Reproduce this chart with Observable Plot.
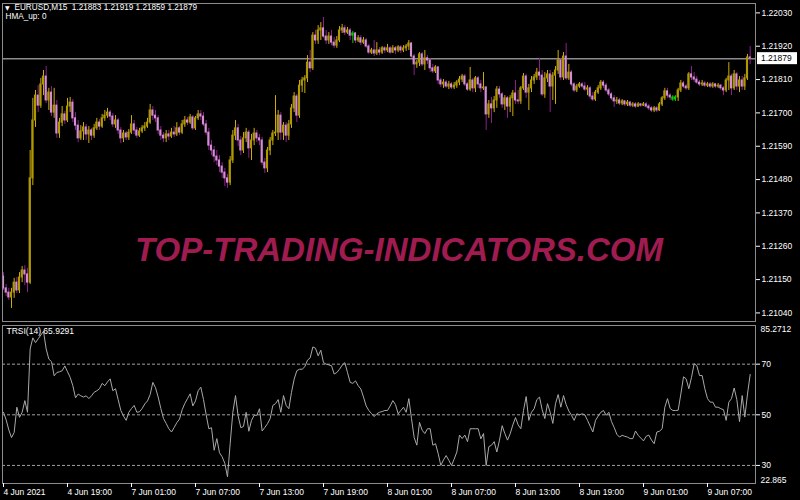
<!DOCTYPE html>
<html><head><meta charset="utf-8">
<script src="https://cdn.jsdelivr.net/npm/d3@7"></script>
<script src="https://cdn.jsdelivr.net/npm/@observablehq/plot@0.6"></script>
<style>
html,body{margin:0;padding:0;background:#000;}
#chart{position:relative;width:800px;height:500px;background:#000;overflow:hidden;}
#chart svg{position:absolute;left:0;display:block;}
#sep{position:absolute;left:0;top:321px;width:757px;height:4px;background:#9a9a9a;}
</style></head><body><div id="chart"><div id="sep"></div></div>
<script>
const symbol = "EURUSD", timeframe = "M15", indicatorName = "HMA_up", indicatorValue = 0, trsiName = "TRSI(14)";
const watermark = "TOP-TRADING-INDICATORS.COM";

const open = [
1.21160,1.21121,1.21107,1.21091,1.21107,1.21140,1.21114,1.21157,1.21180,1.21167,
1.21140,1.21484,1.21675,1.21757,1.21724,1.21794,1.21820,1.21741,1.21767,1.21701,
1.21724,1.21632,1.21668,1.21695,1.21675,1.21721,1.21734,1.21682,1.21658,1.21616,
1.21639,1.21652,1.21629,1.21642,1.21625,1.21649,1.21668,1.21655,1.21682,1.21691,
1.21701,1.21688,1.21662,1.21675,1.21642,1.21616,1.21632,1.21619,1.21635,1.21662,
1.21642,1.21625,1.21639,1.21649,1.21655,1.21668,1.21708,1.21691,1.21682,1.21642,
1.21625,1.21616,1.21629,1.21622,1.21635,1.21629,1.21649,1.21635,1.21662,1.21675,
1.21668,1.21685,1.21649,1.21682,1.21695,1.21688,1.21662,1.21635,1.21592,1.21576,
1.21556,1.21543,1.21523,1.21503,1.21484,1.21470,1.21543,1.21625,1.21649,1.21609,
1.21576,1.21616,1.21635,1.21583,1.21609,1.21632,1.21616,1.21609,1.21536,1.21517,
1.21576,1.21609,1.21632,1.21635,1.21691,1.21635,1.21658,1.21625,1.21662,1.21715,
1.21754,1.21691,1.21790,1.21807,1.21814,1.21866,1.21847,1.21955,1.21939,1.21972,
1.21979,1.21952,1.21939,1.21952,1.21932,1.21922,1.21939,1.21972,1.21979,1.21965,
1.21972,1.21955,1.21962,1.21939,1.21946,1.21932,1.21939,1.21919,1.21899,1.21906,
1.21896,1.21906,1.21899,1.21913,1.21906,1.21913,1.21899,1.21913,1.21906,1.21916,
1.21906,1.21913,1.21919,1.21929,1.21886,1.21860,1.21866,1.21893,1.21860,1.21880,
1.21873,1.21847,1.21837,1.21850,1.21807,1.21794,1.21800,1.21787,1.21794,1.21784,
1.21790,1.21800,1.21810,1.21820,1.21794,1.21777,1.21807,1.21781,1.21814,1.21794,
1.21781,1.21784,1.21695,1.21728,1.21715,1.21741,1.21777,1.21761,1.21728,1.21748,
1.21721,1.21748,1.21764,1.21741,1.21738,1.21781,1.21820,1.21767,1.21781,1.21807,
1.21817,1.21833,1.21823,1.21761,1.21814,1.21827,1.21787,1.21823,1.21840,1.21873,
1.21817,1.21886,1.21814,1.21833,1.21794,1.21774,1.21787,1.21794,1.21787,1.21777,
1.21781,1.21754,1.21744,1.21767,1.21781,1.21800,1.21790,1.21774,1.21761,1.21748,
1.21738,1.21741,1.21731,1.21738,1.21728,1.21734,1.21724,1.21728,1.21721,1.21728,
1.21724,1.21728,1.21721,1.21715,1.21708,1.21715,1.21708,1.21728,1.21748,1.21771,
1.21757,1.21751,1.21744,1.21751,1.21774,1.21797,1.21787,1.21781,1.21827,1.21817,
1.21810,1.21800,1.21794,1.21797,1.21790,1.21794,1.21787,1.21794,1.21787,1.21790,
1.21781,1.21774,1.21807,1.21820,1.21781,1.21827,1.21787,1.21807,1.21787,1.21814,1.21883];

const high = [
1.21173,1.21134,1.21121,1.21121,1.21154,1.21157,1.21173,1.21193,1.21196,1.21187,
1.21576,1.21748,1.21774,1.21790,1.21814,1.21840,1.21853,1.21781,1.21787,1.21781,
1.21741,1.21682,1.21721,1.21705,1.21748,1.21751,1.21744,1.21701,1.21675,1.21658,
1.21668,1.21662,1.21655,1.21649,1.21662,1.21682,1.21678,1.21695,1.21708,1.21715,
1.21708,1.21698,1.21691,1.21682,1.21652,1.21642,1.21639,1.21645,1.21691,1.21675,
1.21652,1.21649,1.21658,1.21668,1.21682,1.21728,1.21721,1.21708,1.21691,1.21655,
1.21635,1.21642,1.21642,1.21649,1.21655,1.21668,1.21655,1.21675,1.21688,1.21685,
1.21695,1.21691,1.21688,1.21708,1.21708,1.21701,1.21675,1.21649,1.21609,1.21589,
1.21576,1.21559,1.21536,1.21517,1.21497,1.21556,1.21642,1.21675,1.21662,1.21622,
1.21635,1.21649,1.21642,1.21629,1.21649,1.21642,1.21629,1.21619,1.21550,1.21586,
1.21619,1.21642,1.21757,1.21708,1.21701,1.21668,1.21668,1.21675,1.21728,1.21767,
1.21761,1.21807,1.21817,1.21823,1.21889,1.21906,1.21965,1.21972,1.21988,1.21998,
1.22015,1.21972,1.21965,1.21972,1.21949,1.21952,1.21985,1.21992,1.21988,1.21982,
1.21979,1.21969,1.21965,1.21955,1.21955,1.21949,1.21946,1.21926,1.21913,1.21939,
1.21932,1.21916,1.21919,1.21919,1.21926,1.21919,1.21922,1.21919,1.21922,1.21922,
1.21922,1.21926,1.21939,1.21932,1.21893,1.21873,1.21899,1.21899,1.21906,1.21889,
1.21880,1.21860,1.21856,1.21853,1.21814,1.21810,1.21807,1.21804,1.21800,1.21800,
1.21807,1.21820,1.21827,1.21827,1.21800,1.21850,1.21814,1.21820,1.21820,1.21807,
1.21833,1.21787,1.21741,1.21751,1.21754,1.21787,1.21787,1.21767,1.21757,1.21754,
1.21757,1.21774,1.21807,1.21774,1.21787,1.21830,1.21827,1.21794,1.21820,1.21827,
1.21847,1.21880,1.21840,1.21833,1.21840,1.21840,1.21833,1.21853,1.21906,1.21880,
1.21899,1.21929,1.21860,1.21840,1.21800,1.21794,1.21800,1.21800,1.21800,1.21790,
1.21787,1.21767,1.21774,1.21790,1.21807,1.21807,1.21797,1.21781,1.21767,1.21757,
1.21751,1.21748,1.21744,1.21741,1.21741,1.21738,1.21734,1.21734,1.21734,1.21731,
1.21734,1.21734,1.21728,1.21721,1.21721,1.21721,1.21734,1.21754,1.21781,1.21781,
1.21764,1.21757,1.21757,1.21781,1.21807,1.21804,1.21794,1.21833,1.21853,1.21833,
1.21820,1.21807,1.21807,1.21804,1.21800,1.21800,1.21800,1.21797,1.21797,1.21794,
1.21787,1.21814,1.21866,1.21827,1.21840,1.21833,1.21820,1.21820,1.21827,1.21893,1.21919];

const low = [
1.21114,1.21094,1.21081,1.21055,1.21088,1.21104,1.21104,1.21140,1.21130,1.21107,
1.21134,1.21460,1.21652,1.21701,1.21715,1.21757,1.21731,1.21708,1.21688,1.21682,
1.21616,1.21616,1.21655,1.21662,1.21668,1.21701,1.21668,1.21642,1.21602,1.21609,
1.21609,1.21609,1.21599,1.21609,1.21616,1.21642,1.21642,1.21649,1.21672,1.21682,
1.21675,1.21652,1.21649,1.21629,1.21599,1.21602,1.21609,1.21609,1.21629,1.21629,
1.21616,1.21619,1.21632,1.21639,1.21649,1.21662,1.21675,1.21668,1.21629,1.21609,
1.21602,1.21602,1.21609,1.21616,1.21619,1.21622,1.21625,1.21629,1.21652,1.21658,
1.21662,1.21642,1.21642,1.21675,1.21675,1.21655,1.21625,1.21576,1.21559,1.21536,
1.21526,1.21503,1.21484,1.21457,1.21451,1.21460,1.21533,1.21609,1.21589,1.21559,
1.21566,1.21602,1.21550,1.21543,1.21592,1.21602,1.21592,1.21526,1.21500,1.21503,
1.21559,1.21592,1.21622,1.21609,1.21609,1.21609,1.21602,1.21609,1.21649,1.21701,
1.21668,1.21682,1.21767,1.21764,1.21800,1.21833,1.21840,1.21926,1.21926,1.21939,
1.21946,1.21926,1.21926,1.21922,1.21913,1.21913,1.21932,1.21962,1.21955,1.21959,
1.21939,1.21929,1.21929,1.21932,1.21922,1.21926,1.21913,1.21893,1.21893,1.21886,
1.21889,1.21889,1.21893,1.21896,1.21899,1.21893,1.21896,1.21893,1.21899,1.21896,
1.21899,1.21903,1.21906,1.21880,1.21823,1.21847,1.21853,1.21853,1.21840,1.21860,
1.21833,1.21830,1.21830,1.21794,1.21784,1.21781,1.21781,1.21777,1.21777,1.21777,
1.21781,1.21790,1.21800,1.21787,1.21771,1.21771,1.21767,1.21767,1.21781,1.21767,
1.21774,1.21642,1.21682,1.21665,1.21701,1.21715,1.21748,1.21715,1.21708,1.21682,
1.21701,1.21688,1.21728,1.21728,1.21728,1.21774,1.21748,1.21708,1.21767,1.21794,
1.21807,1.21807,1.21754,1.21748,1.21800,1.21701,1.21741,1.21728,1.21827,1.21807,
1.21807,1.21807,1.21807,1.21787,1.21767,1.21767,1.21781,1.21781,1.21771,1.21757,
1.21744,1.21738,1.21738,1.21761,1.21774,1.21781,1.21767,1.21754,1.21741,1.21718,
1.21728,1.21724,1.21724,1.21721,1.21721,1.21718,1.21718,1.21715,1.21718,1.21718,
1.21721,1.21715,1.21708,1.21701,1.21701,1.21701,1.21705,1.21721,1.21741,1.21748,
1.21741,1.21738,1.21738,1.21738,1.21767,1.21781,1.21774,1.21774,1.21807,1.21800,
1.21794,1.21787,1.21787,1.21784,1.21784,1.21781,1.21781,1.21781,1.21781,1.21774,
1.21757,1.21767,1.21774,1.21757,1.21774,1.21774,1.21767,1.21774,1.21774,1.21807,1.21859];

const close = [
1.21121,1.21107,1.21091,1.21107,1.21140,1.21114,1.21157,1.21180,1.21167,1.21140,
1.21484,1.21675,1.21757,1.21724,1.21794,1.21820,1.21741,1.21767,1.21701,1.21724,
1.21632,1.21668,1.21695,1.21675,1.21721,1.21734,1.21682,1.21658,1.21616,1.21639,
1.21652,1.21629,1.21642,1.21625,1.21649,1.21668,1.21655,1.21682,1.21691,1.21701,
1.21688,1.21662,1.21675,1.21642,1.21616,1.21632,1.21619,1.21635,1.21662,1.21642,
1.21625,1.21639,1.21649,1.21655,1.21668,1.21708,1.21691,1.21682,1.21642,1.21625,
1.21616,1.21629,1.21622,1.21635,1.21629,1.21649,1.21635,1.21662,1.21675,1.21668,
1.21685,1.21649,1.21682,1.21695,1.21688,1.21662,1.21635,1.21592,1.21576,1.21556,
1.21543,1.21523,1.21503,1.21484,1.21470,1.21543,1.21625,1.21649,1.21609,1.21576,
1.21616,1.21635,1.21583,1.21609,1.21632,1.21616,1.21609,1.21536,1.21517,1.21576,
1.21609,1.21632,1.21635,1.21691,1.21635,1.21658,1.21625,1.21662,1.21715,1.21754,
1.21691,1.21790,1.21807,1.21814,1.21866,1.21847,1.21955,1.21939,1.21972,1.21979,
1.21952,1.21939,1.21952,1.21932,1.21922,1.21939,1.21972,1.21979,1.21965,1.21972,
1.21955,1.21962,1.21939,1.21946,1.21932,1.21939,1.21919,1.21899,1.21906,1.21896,
1.21906,1.21899,1.21913,1.21906,1.21913,1.21899,1.21913,1.21906,1.21916,1.21906,
1.21913,1.21919,1.21929,1.21886,1.21860,1.21866,1.21893,1.21860,1.21880,1.21873,
1.21847,1.21837,1.21850,1.21807,1.21794,1.21800,1.21787,1.21794,1.21784,1.21790,
1.21800,1.21810,1.21820,1.21794,1.21777,1.21807,1.21781,1.21814,1.21794,1.21781,
1.21784,1.21695,1.21728,1.21715,1.21741,1.21777,1.21761,1.21728,1.21748,1.21721,
1.21748,1.21764,1.21741,1.21738,1.21781,1.21820,1.21767,1.21781,1.21807,1.21817,
1.21833,1.21823,1.21761,1.21814,1.21827,1.21787,1.21823,1.21840,1.21873,1.21817,
1.21886,1.21814,1.21833,1.21794,1.21774,1.21787,1.21794,1.21787,1.21777,1.21781,
1.21754,1.21744,1.21767,1.21781,1.21800,1.21790,1.21774,1.21761,1.21748,1.21738,
1.21741,1.21731,1.21738,1.21728,1.21734,1.21724,1.21728,1.21721,1.21728,1.21724,
1.21728,1.21721,1.21715,1.21708,1.21715,1.21708,1.21728,1.21748,1.21771,1.21757,
1.21751,1.21744,1.21751,1.21774,1.21797,1.21787,1.21781,1.21827,1.21817,1.21810,
1.21800,1.21794,1.21797,1.21790,1.21794,1.21787,1.21794,1.21787,1.21790,1.21781,
1.21774,1.21807,1.21820,1.21781,1.21827,1.21787,1.21807,1.21787,1.21814,1.21883,1.21879];

// bars painted green by the HMA indicator
const hmaUpBars = [131, 251, 252];

const trsi = [
51,48,44,41,43,53,49,51,55.6,51,
76,80.4,78.5,80,81.5,83,76,72,71,65.4,
66.7,67,67.4,69.3,67,64.8,61.5,56.7,58.2,57.5,
57,57.5,56.4,57.5,58.9,59.5,60.3,62.4,61.5,63,
64.2,59.5,60.3,56,51.7,49.5,47.8,51,52.5,53.7,
51,51.2,52.5,54.3,55.5,58,62.8,60.7,57,52.5,
48.5,46.6,44.5,43.2,45,46.9,48.3,52,54.5,56.4,
58.3,53.5,55.5,59.5,60.9,56,50,44.5,44.9,36,
40.6,35,33.4,30.8,25.5,38.6,51,57.6,49.5,44.9,
45.4,51,43.5,47.8,49.8,49.8,52.4,43.6,45,46.5,
48.5,53.7,54.4,56,51,57.6,53.7,52.4,58.9,64.1,
67.4,68,68,69,71.6,72.5,76.8,76.3,73.3,75.5,
70.6,70,69.7,69.4,66.1,66.7,68,69.6,70.6,66.7,
62.8,62.4,63.4,61.5,60.2,57,53.5,51.7,50.5,49.3,
50.4,51,51.3,51.7,51.7,53.5,55.6,54,50.4,51.7,
53,51,56.4,48.5,41,38,47,43.9,42.6,44.5,
44.5,38,38.6,34.7,30,32.2,33.9,32,30,32.5,
35.3,42,40.6,42,39.4,44.5,44.5,44.5,44.5,40.5,
42.6,30,37.4,38,39.4,35.3,40,45.7,42.6,40,
42.5,46,48.9,46,44.5,51.7,57.2,47.8,51,52.4,
56,57,52,48.5,54.4,51,46.6,54.4,58,53,
57.6,54,51.5,49.8,47.8,50.4,50,50.4,50,47.8,
45.5,43.2,47.8,49.5,51,51.7,49.8,51,47.3,45,
42.3,41.2,41.9,41.5,41.2,40.6,40.6,43.6,41.9,40.8,
39.7,41.5,42,40,38.6,43.2,43.5,44.5,53,56.4,
52.5,51.7,51.7,51.8,58.2,65,64.2,60.3,64.8,70.2,
69.4,65.5,65.5,60.3,56.4,55,55,53,53,52.4,
52,47.8,55,56.4,60.6,56,47.3,57.6,49.1,58.2,65.9291];

const priceTicks = [1.22030,1.21920,1.21810,1.21700,1.21590,1.21480,1.21370,1.21260,1.21150,1.21040];
const priceRange = [1.210117, 1.22061];
const trsiRange = [22.865, 85.2712];
const trsiLevels = [70, 50, 30];
const timeTickBars = [0,24,48,72,96,120,144,168,192,216,240,264];
const timeLabels = ["4 Jun 2021","4 Jun 19:00","7 Jun 01:00","7 Jun 07:00","7 Jun 13:00","7 Jun 19:00","8 Jun 01:00","8 Jun 07:00","8 Jun 13:00","8 Jun 19:00","9 Jun 01:00","9 Jun 07:00"];

const n = close.length;
const bars = d3.range(n).map(i => ({
  i, o: open[i], h: high[i], l: low[i], c: close[i],
  kind: hmaUpBars.includes(i) ? "hma" : (close[i] >= open[i] ? "up" : "down")
}));
const wickColor = {up: "#ccad00", down: "#8c1f8c", hma: "#00c800"};
const bodyColor = {up: "#b09800", down: "#d48ed4", hma: "#00d400"};

const W = 800, H1 = 323, H2 = 177, mL = 2, mR = 45;
const xDomain = [-0.375, 282];
const font = "'Liberation Sans', Arial, sans-serif";
const baseStyle = {background: "#000", color: "#fff", fontFamily: font, fontSize: "8.5px"};

const f5 = d3.format(".5f");
const last = n - 1;
const header = `${symbol},${timeframe}\u00a0\u00a0${f5(open[last])} ${f5(high[last])} ${f5(low[last])} ${f5(close[last])}`;

const main = Plot.plot({
  width: W, height: H1, marginLeft: mL, marginRight: mR, marginTop: 3, marginBottom: 2,
  style: baseStyle,
  x: {domain: xDomain, axis: null, label: null},
  y: {domain: priceRange, axis: null, label: null},
  color: {type: "identity"},
  marks: [
    Plot.text([watermark], {frameAnchor: "middle", dx: 20, dy: 88, fill: "#a01c50", fontSize: 33,
      fontWeight: "bold", fontStyle: "italic", fontFamily: "'Liberation Sans', Arial, sans-serif", ariaLabel: "watermark"}),
    Plot.ruleY([close[last]], {stroke: "#8c8c8c", strokeWidth: 1.5}),
    Plot.ruleX(bars, {x: "i", y1: "l", y2: "h", stroke: d => wickColor[d.kind], strokeWidth: 1}),
    Plot.rect(bars, {x1: d => d.i - 0.4, x2: d => d.i + 0.4, y1: "o", y2: "c",
      fill: d => bodyColor[d.kind], insetTop: -0.5, insetBottom: -0.5}),
    Plot.frame({stroke: "#8c8c8c"}),
    Plot.axisY(priceTicks, {anchor: "right", tickSize: 4, tickPadding: 2, tickFormat: f5, label: null}),
    Plot.text(["\u25BC"], {frameAnchor: "top-left", dx: 2.5, dy: 2, lineAnchor: "top", textAnchor: "start",
      fontSize: 6, fill: "#fff", fontFamily: "'DejaVu Sans', sans-serif"}),
    Plot.text([header], {frameAnchor: "top-left", dx: 12, dy: 0.5, lineAnchor: "top", textAnchor: "start", fill: "#fff", fontSize: 8.2}),
    Plot.text([`${indicatorName}: ${indicatorValue}`], {frameAnchor: "top-left", dx: 3, dy: 10, lineAnchor: "top", textAnchor: "start", fill: "#fff", fontSize: 8.2})
  ]
});

const sub = Plot.plot({
  width: W, height: H2, marginLeft: mL, marginRight: mR, marginTop: 2, marginBottom: 17,
  style: baseStyle,
  x: {domain: xDomain, axis: null, label: null},
  y: {domain: trsiRange, axis: null, label: null},
  marks: [
    Plot.ruleY(trsiLevels, {stroke: "#a0a0a0", strokeDasharray: "3,2", strokeWidth: 1}),
    Plot.line(trsi, {x: (d, i) => i, y: d => d, stroke: "#a9a9a9", strokeWidth: 1}),
    Plot.frame({stroke: "#8c8c8c"}),
    Plot.axisY(trsiLevels, {anchor: "right", tickSize: 4, tickPadding: 2, label: null}),
    Plot.text([trsiRange[1]], {y: d => d, frameAnchor: "right", textAnchor: "start", lineAnchor: "top", dx: 5, dy: 0.5, text: d => String(d), fill: "#fff"}),
    Plot.text([trsiRange[0]], {y: d => d, frameAnchor: "right", textAnchor: "start", lineAnchor: "bottom", dx: 5, dy: -0.5, text: d => String(d), fill: "#fff"}),
    Plot.axisX(timeTickBars, {anchor: "bottom", tickSize: 4, tickPadding: 1, textAnchor: "start", label: null,
      tickFormat: d => timeLabels[timeTickBars.indexOf(d)]}),
    Plot.text([`${trsiName} ${trsi[last]}`], {frameAnchor: "top-left", dx: 4, dy: 2.5, lineAnchor: "top", textAnchor: "start", fill: "#fff"})
  ]
});

const chart = document.getElementById("chart");
main.style.top = "0px";
sub.style.top = H1 + "px";
chart.appendChild(main);
chart.appendChild(sub);

// stretch the watermark to its width in the reference
d3.select(main).select('g[aria-label="watermark"] text')
  .attr("textLength", 543).attr("lengthAdjust", "spacingAndGlyphs");

// current price label box on the right axis
const ys = main.scale("y");
const yp = ys.apply ? ys.apply(close[last]) : d3.scaleLinear(ys.domain, ys.range)(close[last]);
const gx = W - mR + 2;
const g = d3.select(main).append("g").attr("text-anchor", "start");
g.append("rect").attr("x", gx).attr("y", yp - 6).attr("width", 40).attr("height", 12).attr("fill", "#fff");
g.append("text").attr("x", gx + 4).attr("y", yp).attr("dy", "0.32em").attr("fill", "#000")
  .attr("text-anchor", "start").attr("font-family", font).attr("font-size", "8.5px").text(f5(close[last]));
</script>
</body></html>
